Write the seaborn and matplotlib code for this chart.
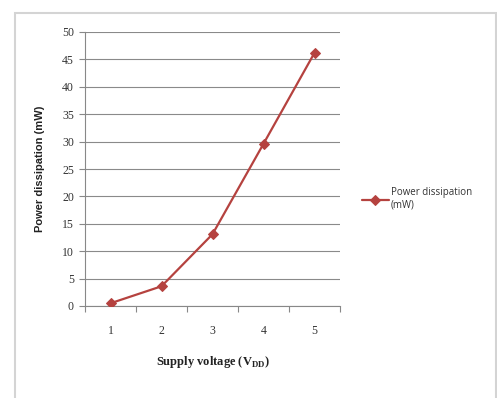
import matplotlib
matplotlib.use("Agg")
import matplotlib.pyplot as plt
import seaborn as sns
import pandas as pd
from matplotlib.patches import Rectangle

voltages = [1, 2, 3, 4, 5]
power_mw = [0.5, 3.6, 13.1, 29.6, 46.2]
y_ticks = [0, 5, 10, 15, 20, 25, 30, 35, 40, 45, 50]

df = pd.DataFrame({"Supply voltage": voltages, "Power dissipation (mW)": power_mw})

sns.set_theme(style="white")
plt.rcParams["font.family"] = ["Liberation Serif", "DejaVu Serif"]

fig = plt.figure(figsize=(4.97, 3.98), dpi=100)
fig.patches.append(Rectangle((15 / 497, -0.01), (481 / 497), 1 - 13 / 398 + 0.01,
                             transform=fig.transFigure, fill=False,
                             edgecolor="#d4d4d4", linewidth=1.5))
ax = fig.add_axes([85 / 497, 1 - 306 / 398, 255 / 497, 274 / 398])

line_color = "#b5423f"
sns.lineplot(data=df, x="Supply voltage", y="Power dissipation (mW)", ax=ax,
             color=line_color, marker="D", markersize=5.5, markeredgecolor=line_color,
             linewidth=1.6, label="Power dissipation\n(mW)", legend=False, zorder=3)

ax.set_xlim(0.5, 5.5)
ax.set_ylim(0, 50)
ax.set_yticks(y_ticks)
ax.set_yticklabels([str(v) for v in y_ticks], fontsize=8.5, color="#333333")
ax.set_xticks(voltages)
ax.set_xticklabels([str(v) for v in voltages], fontsize=8.5, color="#333333")
ax.set_xticks([0.5, 1.5, 2.5, 3.5, 4.5, 5.5], minor=True)
ax.tick_params(axis="x", which="major", length=0, pad=14)
ax.tick_params(axis="x", which="minor", length=4, direction="out", color="#888888", width=0.8)
ax.tick_params(axis="y", which="major", length=4, direction="out", color="#888888", width=0.8, pad=4)
ax.xaxis.set_ticks_position("bottom")
ax.yaxis.set_ticks_position("left")

ax.yaxis.grid(True, color="#8a8a8a", linewidth=0.8)
ax.xaxis.grid(False)
ax.set_axisbelow(True)
for s in ["top", "right"]:
    ax.spines[s].set_visible(False)
for s in ["left", "bottom"]:
    ax.spines[s].set_color("#888888")
    ax.spines[s].set_linewidth(0.8)

ax.set_xlabel("Supply voltage (V$_{\\mathregular{DD}}$)", fontsize=9, fontweight="bold",
              color="#222222", labelpad=12)
ax.set_ylabel("Power dissipation (mW)", fontsize=8, fontweight="bold",
              family=["Liberation Sans", "DejaVu Sans"], color="#222222", labelpad=12)

leg = ax.legend(loc="center left", bbox_to_anchor=(1.05, 0.39), frameon=False,
                prop={"family": ["Open Sans", "DejaVu Sans"], "size": 7},
                handlelength=2.8, handletextpad=0.2, labelcolor="#333333")

fig.savefig("out.png", dpi=100, facecolor="white")
